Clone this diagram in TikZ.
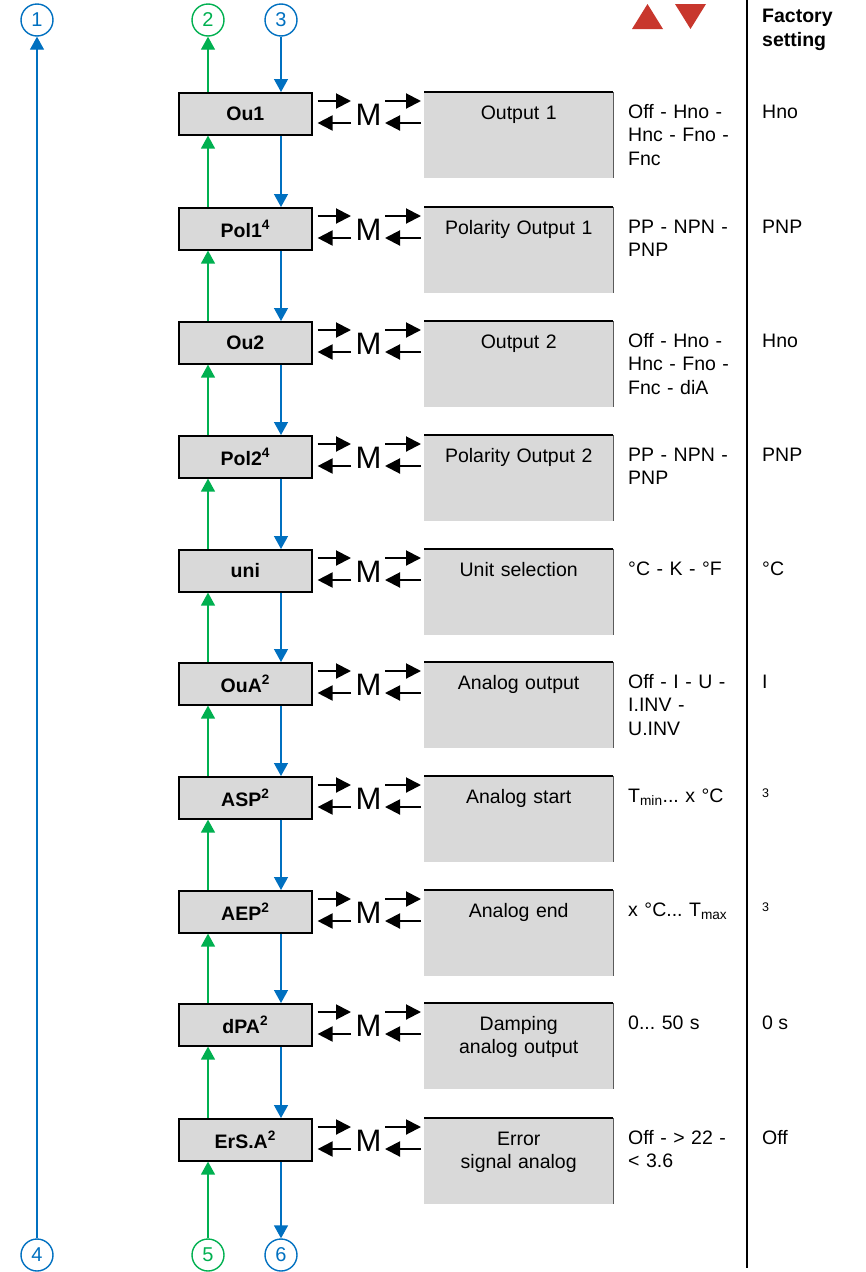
\documentclass[tikz,border=0pt]{standalone}
\usepackage{fontspec}
\setmainfont{Liberation Sans}
\usetikzlibrary{arrows.meta,calc}
\definecolor{cblue}{RGB}{0,112,192}
\definecolor{cgreen}{RGB}{0,176,80}
\definecolor{cred}{RGB}{200,55,45}
\definecolor{cgray}{RGB}{217,217,217}
\definecolor{cedge}{RGB}{90,90,90}
\frenchspacing
\begin{document}
\frenchspacing
\begin{tikzpicture}[x=1pt,y=-1pt,
  txt/.style={font=\fontsize{19.5}{23.5}\selectfont, inner sep=0pt},
  lbox/.style={draw=black, line width=1.6pt, fill=cgray, minimum width=133pt, minimum height=42pt, anchor=north west, inner sep=0pt, font=\fontsize{19.5}{23.5}\selectfont\bfseries},
  rbox/.style={fill=cgray, minimum width=189pt, minimum height=86pt, anchor=north west, inner sep=0pt},
  circ/.style={circle, draw=#1, text=#1, line width=1.4pt, minimum size=32pt, inner sep=0pt, font=\fontsize{20}{20}\selectfont},
  garr/.style={cgreen, line width=1.4pt, -{Triangle[width=14pt,length=13pt]}},
  barr/.style={cblue, line width=1.4pt, -{Triangle[width=14pt,length=13pt]}},
  marr/.style={black, line width=2pt, -{Triangle[width=15pt,length=15pt]}},
  mtxt/.style={font=\fontsize{31}{31}\selectfont, inner sep=0pt}
]
\useasboundingbox (0,0) rectangle (866,1272);

% header
\fill[cred] (632,29) -- (663,29) -- (647.5,4) -- cycle;
\fill[cred] (675,4) -- (706,4) -- (690.5,29) -- cycle;
\node[txt, font=\fontsize{19.5}{24}\selectfont\bfseries, anchor=base west, align=left, text width=100pt] (fs) at (762,22) {Factory\\setting};
\draw[line width=2pt] (747,0) -- (747,1268);

% rows
\foreach \i/\t/\lab/\rtxt/\opt/\fac in {
  0/92/{Ou1}/{Output 1}/{Off - Hno -\\Hnc - Fno -\\Fnc}/{Hno},
  1/207/{Pol1\textsuperscript{4}}/{Polarity Output 1}/{PP - NPN -\\PNP}/{PNP},
  2/321/{Ou2}/{Output 2}/{Off - Hno -\\Hnc - Fno -\\Fnc - diA}/{Hno},
  3/435/{Pol2\textsuperscript{4}}/{Polarity Output 2}/{PP - NPN -\\PNP}/{PNP},
  4/549/{uni}/{Unit selection}/{°C - K - °F}/{°C},
  5/662/{OuA\textsuperscript{2}}/{Analog output}/{Off - I - U -\\I.INV -\\U.INV}/{I},
  6/776/{ASP\textsuperscript{2}}/{Analog start}/{T\textsubscript{min}... x °C}/{},
  7/890/{AEP\textsuperscript{2}}/{Analog end}/{x °C... T\textsubscript{max}}/{},
  8/1003/{dPA\textsuperscript{2}}/{Damping\\analog output}/{0... 50 s}/{0 s},
  9/1118/{ErS.A\textsuperscript{2}}/{Error\\signal analog}/{Off - > 22 -\\< 3.6}/{Off}} {
  \node[lbox] (L\i) at (178,\t) {\lab};
  \node[rbox] (R\i) at (424,\t) {};
  \draw[line width=1.6pt] (R\i.north west) -- (R\i.north east);
  \draw[cedge, line width=1.6pt] (R\i.north east) -- (R\i.south east);
  \node[txt, anchor=base, text width=189pt, align=center] (RT\i) at ($(R\i.north)+(0,27)$) {\rtxt};
  \node[mtxt, anchor=base] (M\i) at ($(L\i.north east)+(56,33)$) {M};
  \draw[marr] ($(L\i.north east)+(5,9)$) -- ($(R\i.north west)+(-73,9)$);
  \draw[marr] ($(R\i.north west)+(-73,31)$) -- ($(L\i.north east)+(5,31)$);
  \draw[marr] ($(R\i.north west)+(-39,9)$) -- ($(R\i.north west)+(-3,9)$);
  \draw[marr] ($(R\i.north west)+(-3,31)$) -- ($(R\i.north west)+(-39,31)$);
  \node[txt, anchor=base west, text width=118pt, align=left] (O\i) at (628,\t+26) {\frenchspacing\opt};
  \node[txt, anchor=base west] (F\i) at (762,\t+26) {\fac};
}
\node[anchor=base west, inner sep=0pt, font=\fontsize{12.5}{13}\selectfont] (F6b) at (762,797) {3};
\node[anchor=base west, inner sep=0pt, font=\fontsize{12.5}{13}\selectfont] (F7b) at (762,911) {3};

% flow arrows between rows
\foreach \i in {1,...,9} {
  \pgfmathtruncatemacro\j{\i-1}
  \draw[garr] ($(L\i.north west)+(30,0)$) -- ($(L\j.south west)+(30,0)$);
  \draw[barr] ($(L\j.south west)+(103,0)$) -- ($(L\i.north west)+(103,0)$);
}

% circles
\node[circ=cblue] (c1) at (37,20) {1};
\node[circ=cgreen] (c2) at (208,20) {2};
\node[circ=cblue] (c3) at (281,20) {3};
\node[circ=cblue] (c4) at (37,1255) {4};
\node[circ=cgreen] (c5) at (208,1255) {5};
\node[circ=cblue] (c6) at (281,1255) {6};

\draw[garr] ($(L0.north west)+(30,0)$) -- (c2.south);
\draw[barr] (c3.south) -- ($(L0.north west)+(103,0)$);
\draw[garr] (c5.north) -- ($(L9.south west)+(30,0)$);
\draw[barr] ($(L9.south west)+(103,0)$) -- (c6.north);
\draw[barr] (c4.north) -- (c1.south);
\end{tikzpicture}
\end{document}
